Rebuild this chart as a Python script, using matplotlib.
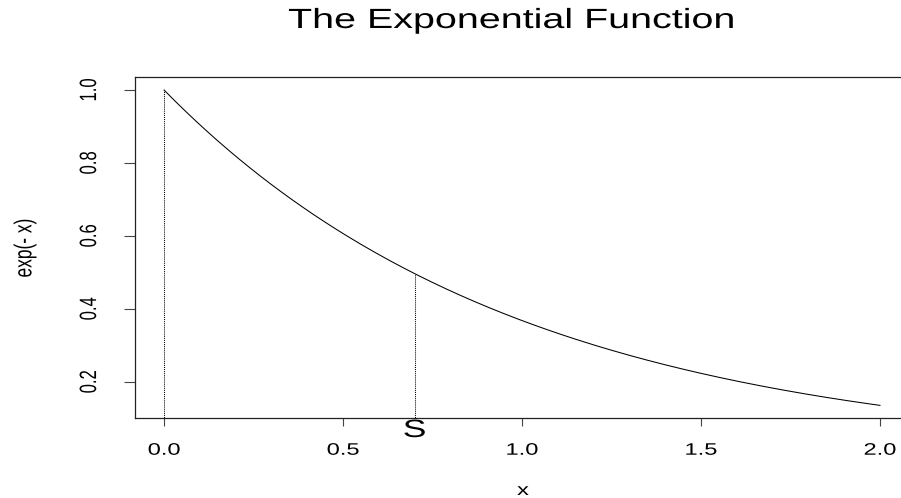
import numpy as np
import matplotlib
matplotlib.use("Agg")
import matplotlib.pyplot as plt
from matplotlib.patheffects import AbstractPathEffect
from matplotlib.transforms import Affine2D

plt.rcParams['font.family'] = ['Liberation Sans', 'DejaVu Sans']

# data
x = np.linspace(0, 2, 201)
y = np.exp(-x)
mark_x = [0.0, 0.7]
mark_label = "S"
x_ticks = [0.0, 0.5, 1.0, 1.5, 2.0]
y_ticks = [0.2, 0.4, 0.6, 0.8, 1.0]

# the reference text looks stretched sideways, so widen the glyphs a bit
SX = 1.42


class Stretch(AbstractPathEffect):
    def __init__(self, sx):
        super().__init__()
        self.sx = sx

    def draw_path(self, renderer, gc, tpath, affine, rgbFace=None):
        ext = tpath.get_extents(affine)
        cx = (ext.x0 + ext.x1) / 2
        t = affine + Affine2D().translate(-cx, 0).scale(self.sx, 1).translate(cx, 0)
        renderer.draw_path(gc, tpath, t, rgbFace)


fig = plt.figure(figsize=(9.01, 4.98), dpi=100)
ax = fig.add_axes([135.4 / 901, 80 / 498, (908.6 - 135.4) / 901, (418 - 77.4) / 498])

ax.plot(x, y, color='black', lw=0.75)
for mx in mark_x:
    ax.plot([mx, mx], [0, np.exp(-mx)], color='black', lw=0.75, ls=(0, (1, 1)))

ax.set_xlim(-0.08, 2.08)
ax.set_ylim(0.1007, 1.0346)
ax.set_xticks(x_ticks)
ax.set_xticklabels(["%.1f" % v for v in x_ticks])
ax.set_yticks(y_ticks)
ax.set_yticklabels(["%.1f" % v for v in y_ticks], rotation=90, va='center')
ax.tick_params(axis='x', direction='out', length=5.8, width=0.8, labelsize=12, pad=12, color='#444444')
ax.tick_params(axis='y', direction='out', length=7.9, width=0.8, labelsize=12, pad=20, color='#444444')
for s in ax.spines.values():
    s.set_linewidth(0.9)
    s.set_color('#222222')
ax.spines['right'].set_visible(False)

texts = list(ax.get_xticklabels()) + list(ax.get_yticklabels())

texts.append(ax.text(mark_x[1], 0, mark_label, transform=ax.get_xaxis_transform(),
                     ha='center', va='top', fontsize=18))
texts.append(fig.text(523 / 901, 1 - 495 / 498, "x", ha='center', va='baseline', fontsize=12))
texts.append(fig.text(25 / 901, 1 - 248 / 498, "exp(- x)", ha='center', va='center',
                      rotation=90, fontsize=12.5))
texts.append(fig.text(511 / 901, 1 - 21 / 498, "The Exponential Function",
                      ha='center', va='center', fontsize=20))
for t in texts:
    t.set_path_effects([Stretch(SX)])

fig.savefig("out.png", dpi=100)
